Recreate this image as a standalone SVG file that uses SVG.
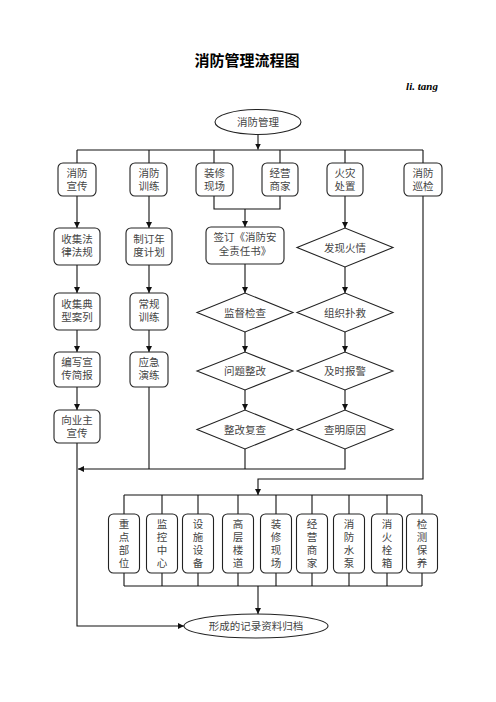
<svg xmlns="http://www.w3.org/2000/svg" width="496" height="702" viewBox="0 0 496 702">
<style>
.bx{fill:#fff;stroke:#222;stroke-width:1.1}
.ln{fill:none;stroke:#111;stroke-width:1.1}
.t{font-family:"Liberation Serif","Noto Sans CJK SC",serif;font-size:10.5px;fill:#444;text-anchor:middle}
.title{font-family:"Noto Sans CJK SC",sans-serif;font-size:15px;font-weight:bold;fill:#000;text-anchor:middle}
</style>
<defs>
<marker id="arr" markerWidth="6" markerHeight="6" refX="6" refY="3" orient="auto" markerUnits="userSpaceOnUse"><path d="M0,0 L6,3 L0,6 z" fill="#111"/></marker>
</defs>
<rect width="496" height="702" fill="#fff"/>
<text class="title" x="247" y="66">消防管理流程图</text>
<text x="422" y="90" font-family="Liberation Serif,serif" font-size="11" font-weight="bold" font-style="italic" text-anchor="middle">li. tang</text>

<g id="connectors">
<path class="ln" d="M258,134.5 V149.5" marker-end="url(#arr)"/>
<path class="ln" d="M77,150 H423 M77,150 V163 M149,150 V163 M214,150 V163 M280,150 V163 M345,150 V163 M423,150 V163"/>
<path class="ln" d="M77,196 V228" marker-end="url(#arr)"/>
<path class="ln" d="M77,265 V293" marker-end="url(#arr)"/>
<path class="ln" d="M77,330 V352" marker-end="url(#arr)"/>
<path class="ln" d="M77,387 V410" marker-end="url(#arr)"/>
<path class="ln" d="M77,443 V626 H184" marker-end="url(#arr)"/>
<path class="ln" d="M149,196 V228" marker-end="url(#arr)"/>
<path class="ln" d="M149,265 V293" marker-end="url(#arr)"/>
<path class="ln" d="M149,330 V352" marker-end="url(#arr)"/>
<path class="ln" d="M149,387 V469"/>
<path class="ln" d="M214,196 V209 H280 V196"/>
<path class="ln" d="M245,209 V227" marker-end="url(#arr)"/>
<path class="ln" d="M245,264 V293" marker-end="url(#arr)"/>
<path class="ln" d="M245,332 V352" marker-end="url(#arr)"/>
<path class="ln" d="M245,390 V410" marker-end="url(#arr)"/>
<path class="ln" d="M245,449 V469"/>
<path class="ln" d="M345,196 V228" marker-end="url(#arr)"/>
<path class="ln" d="M345,267 V293" marker-end="url(#arr)"/>
<path class="ln" d="M345,332 V352" marker-end="url(#arr)"/>
<path class="ln" d="M345,390 V410" marker-end="url(#arr)"/>
<path class="ln" d="M345,449 V469 H78" marker-end="url(#arr)"/>
<path class="ln" d="M423,196 V479 H258 V495" marker-end="url(#arr)"/>
<path class="ln" d="M124,495 H422 M124,495 V514 M162,495 V514 M198,495 V514 M238,495 V514 M276,495 V514 M312,495 V514 M349,495 V514 M387,495 V514 M422,495 V514"/>
<path class="ln" d="M124,586 H422 M124,573 V586 M162,573 V586 M198,573 V586 M238,573 V586 M276,573 V586 M312,573 V586 M349,573 V586 M387,573 V586 M422,573 V586"/>
<path class="ln" d="M258,586 V614" marker-end="url(#arr)"/>
</g>

<g id="n-start"><ellipse class="bx" cx="258" cy="122" rx="43" ry="12.5"/><text class="t" x="258" y="126">消防管理</text></g>

<g id="n-xcxc"><rect class="bx" x="58" y="163" width="38" height="33" rx="5"/><text class="t" x="77" y="177">消防</text><text class="t" x="77" y="190">宣传</text></g>
<g id="n-xfxl"><rect class="bx" x="130" y="163" width="37" height="33" rx="5"/><text class="t" x="149" y="177">消防</text><text class="t" x="149" y="190">训练</text></g>
<g id="n-zxxc"><rect class="bx" x="196" y="163" width="37" height="33" rx="5"/><text class="t" x="214.5" y="177">装修</text><text class="t" x="214.5" y="190">现场</text></g>
<g id="n-jysj"><rect class="bx" x="262" y="163" width="36" height="33" rx="5"/><text class="t" x="280" y="177">经营</text><text class="t" x="280" y="190">商家</text></g>
<g id="n-hzcz"><rect class="bx" x="327" y="163" width="36" height="33" rx="5"/><text class="t" x="345" y="177">火灾</text><text class="t" x="345" y="190">处置</text></g>
<g id="n-xfxj"><rect class="bx" x="404" y="163" width="38" height="33" rx="5"/><text class="t" x="423" y="177">消防</text><text class="t" x="423" y="190">巡检</text></g>

<g id="n-sjfl"><rect class="bx" x="54" y="228" width="46" height="37" rx="5"/><text class="t" x="77" y="243">收集法</text><text class="t" x="77" y="256">律法规</text></g>
<g id="n-sjdx"><rect class="bx" x="54" y="293" width="46" height="37" rx="5"/><text class="t" x="77" y="308">收集典</text><text class="t" x="77" y="321">型案列</text></g>
<g id="n-bxxc"><rect class="bx" x="54" y="352" width="46" height="35" rx="5"/><text class="t" x="77" y="366">编写宣</text><text class="t" x="77" y="379">传简报</text></g>
<g id="n-xyz"><rect class="bx" x="54" y="410" width="46" height="33" rx="5"/><text class="t" x="77" y="424">向业主</text><text class="t" x="77" y="437">宣传</text></g>

<g id="n-zdnd"><rect class="bx" x="126" y="228" width="46" height="37" rx="5"/><text class="t" x="149" y="243">制订年</text><text class="t" x="149" y="256">度计划</text></g>
<g id="n-cgxl"><rect class="bx" x="130" y="293" width="38" height="37" rx="5"/><text class="t" x="149" y="308">常规</text><text class="t" x="149" y="321">训练</text></g>
<g id="n-yjyl"><rect class="bx" x="130" y="352" width="38" height="35" rx="5"/><text class="t" x="149" y="366">应急</text><text class="t" x="149" y="379">演练</text></g>

<g id="n-qd"><rect class="bx" x="206" y="227" width="78" height="37" rx="5"/><text class="t" x="245" y="241">签订《消防安</text><text class="t" x="245" y="255">全责任书》</text></g>
<g id="n-jdjc"><polygon class="bx" points="197,312.5 245,293 293,312.5 245,332"/><text class="t" x="245" y="316.5">监督检查</text></g>
<g id="n-wtzg"><polygon class="bx" points="197,371 245,352 293,371 245,390"/><text class="t" x="245" y="375">问题整改</text></g>
<g id="n-zgfc"><polygon class="bx" points="197,429.5 245,410 293,429.5 245,449"/><text class="t" x="245" y="433.5">整改复查</text></g>

<g id="n-fxhq"><polygon class="bx" points="297,247.5 345,228 393,247.5 345,267"/><text class="t" x="345" y="251.5">发现火情</text></g>
<g id="n-zzpj"><polygon class="bx" points="297,312.5 345,293 393,312.5 345,332"/><text class="t" x="345" y="316.5">组织扑救</text></g>
<g id="n-jsbj"><polygon class="bx" points="297,371 345,352 393,371 345,390"/><text class="t" x="345" y="375">及时报警</text></g>
<g id="n-cmyy"><polygon class="bx" points="297,429.5 345,410 393,429.5 345,449"/><text class="t" x="345" y="433.5">查明原因</text></g>

<g id="n-b1"><rect class="bx" x="108.5" y="514" width="31" height="59" rx="5"/><text class="t" x="124" y="528">重</text><text class="t" x="124" y="541">点</text><text class="t" x="124" y="554">部</text><text class="t" x="124" y="567">位</text></g>
<g id="n-b2"><rect class="bx" x="146.5" y="514" width="31" height="59" rx="5"/><text class="t" x="162" y="528">监</text><text class="t" x="162" y="541">控</text><text class="t" x="162" y="554">中</text><text class="t" x="162" y="567">心</text></g>
<g id="n-b3"><rect class="bx" x="182.5" y="514" width="31" height="59" rx="5"/><text class="t" x="198" y="528">设</text><text class="t" x="198" y="541">施</text><text class="t" x="198" y="554">设</text><text class="t" x="198" y="567">备</text></g>
<g id="n-b4"><rect class="bx" x="222.5" y="514" width="31" height="59" rx="5"/><text class="t" x="238" y="528">高</text><text class="t" x="238" y="541">层</text><text class="t" x="238" y="554">楼</text><text class="t" x="238" y="567">道</text></g>
<g id="n-b5"><rect class="bx" x="260.5" y="514" width="31" height="59" rx="5"/><text class="t" x="276" y="528">装</text><text class="t" x="276" y="541">修</text><text class="t" x="276" y="554">现</text><text class="t" x="276" y="567">场</text></g>
<g id="n-b6"><rect class="bx" x="296.5" y="514" width="31" height="59" rx="5"/><text class="t" x="312" y="528">经</text><text class="t" x="312" y="541">营</text><text class="t" x="312" y="554">商</text><text class="t" x="312" y="567">家</text></g>
<g id="n-b7"><rect class="bx" x="333.5" y="514" width="31" height="59" rx="5"/><text class="t" x="349" y="528">消</text><text class="t" x="349" y="541">防</text><text class="t" x="349" y="554">水</text><text class="t" x="349" y="567">泵</text></g>
<g id="n-b8"><rect class="bx" x="371.5" y="514" width="31" height="59" rx="5"/><text class="t" x="387" y="528">消</text><text class="t" x="387" y="541">火</text><text class="t" x="387" y="554">栓</text><text class="t" x="387" y="567">箱</text></g>
<g id="n-b9"><rect class="bx" x="406.5" y="514" width="31" height="59" rx="5"/><text class="t" x="422" y="528">检</text><text class="t" x="422" y="541">测</text><text class="t" x="422" y="554">保</text><text class="t" x="422" y="567">养</text></g>

<g id="n-end"><ellipse class="bx" cx="256" cy="626" rx="72" ry="12"/><text class="t" x="256" y="630" font-size="10.5">形成的记录资料归档</text></g>
</svg>
